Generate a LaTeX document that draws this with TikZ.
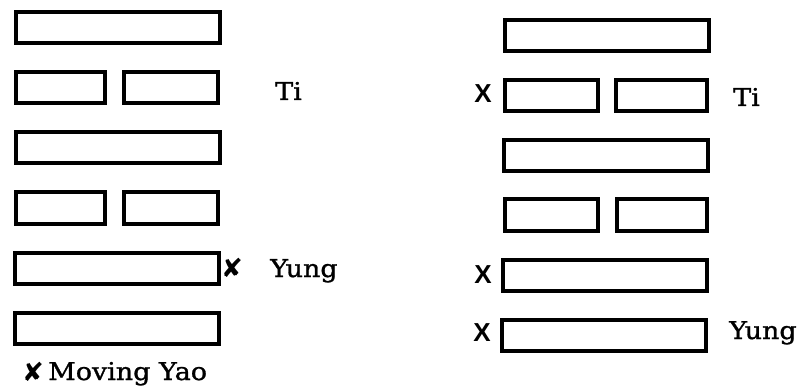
\documentclass[tikz,border=0pt]{standalone}
\usepackage{fontspec}
\setmainfont{DejaVu Serif}[FakeStretch=1.1, FakeBold=1.2]
\newfontfamily\markfont{DejaVu Sans}
\newfontfamily\crossfont{Liberation Sans}
\usetikzlibrary{positioning}

\tikzset{
  bar/.style={draw, black, line width=4pt, rectangle, inner sep=0pt, minimum height=31pt},
  yangbar/.style={bar, minimum width=204pt},
  yinbar/.style={bar, minimum width=#1},
  name text/.style={inner sep=0pt, anchor=base west, font=\fontsize{24.5}{24.5}\selectfont},
  moving/.style={inner sep=0pt, font=\markfont\fontsize{26}{26}\selectfont},
  movingx/.style={inner sep=0pt, font=\crossfont\bfseries\fontsize{26}{26}\selectfont}
}

\begin{document}
\begin{tikzpicture}[x=1pt, y=-1pt]
				\useasboundingbox (0,0) rectangle (799,387);
				% left hexagram
				\node[yangbar]         (l1)  at (117.5, 28) {};
				\node[yinbar=89pt]     (l2a) at ( 60.5, 88) {};
				\node[yinbar=94pt]     (l2b) at (171  , 88) {};
				\node[yangbar]         (l3)  at (117.5,148) {};
				\node[yinbar=89pt]     (l4a) at ( 60.5,208) {};
				\node[yinbar=94pt]     (l4b) at (171  ,208) {};
				\node[yangbar]         (l5)  at (117  ,268) {};
				\node[yangbar]         (l6)  at (116.5,328) {};
				\node[name text]       (lti)   at (275,100) {Ti};
				\node[moving]          (lx5)   at (232,268) {✘};
				\node[name text]       (lyung) at (270,277) {Yung};
				\node[moving]          (lxkey) at ( 33,372) {✘};
				\node[name text]       (lkey)  at ( 48,380) {Moving Yao};
				% right hexagram
				\node[yangbar]         (r1)  at (607, 36) {};
				\node[yinbar=93pt]     (r2a) at (551.5, 96) {};
				\node[yinbar=91pt]     (r2b) at (661.5, 96) {};
				\node[yangbar]         (r3)  at (606,156) {};
				\node[yinbar=93pt]     (r4a) at (551.5,215) {};
				\node[yinbar=90pt]     (r4b) at (662  ,215) {};
				\node[yangbar]         (r5)  at (605,275) {};
				\node[yangbar]         (r6)  at (604,335) {};
				\node[movingx]         (rx2)   at (483, 94) {X};
				\node[name text]       (rti)   at (733,106) {Ti};
				\node[movingx]         (rx5)   at (483,275) {X};
				\node[movingx]         (rx6)   at (482,333) {X};
				\node[name text]       (ryung) at (729,339) {Yung};
			\end{tikzpicture}
\end{document}
